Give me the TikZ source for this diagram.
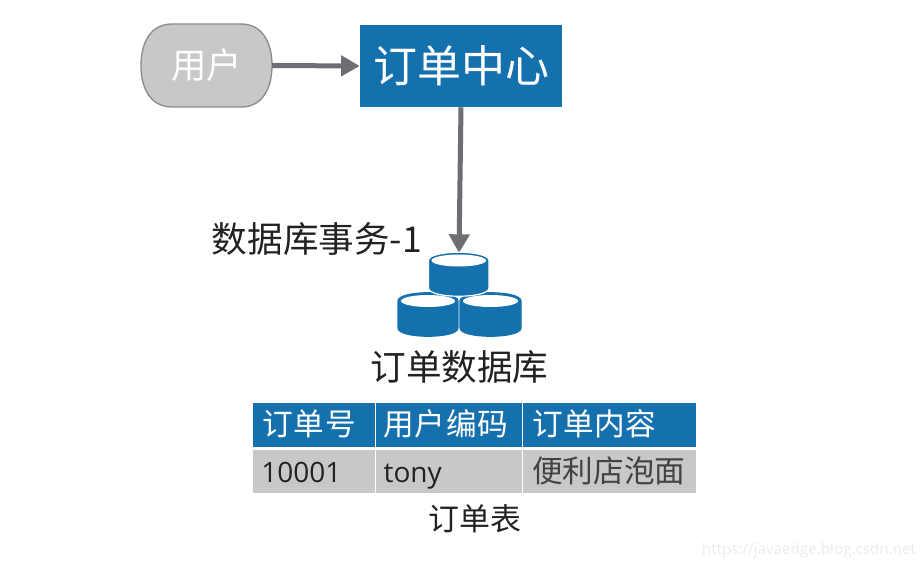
\documentclass[tikz,border=0pt]{standalone}
\usepackage{fontspec}
\setmainfont{Open Sans}
\newfontfamily\cjk{Noto Sans CJK SC}
\usetikzlibrary{arrows.meta}
\definecolor{blu}{HTML}{1571AE}
\definecolor{gry}{HTML}{C8C8C8}
\definecolor{arr}{HTML}{6D6E73}
\definecolor{ink}{HTML}{222222}
\newcommand{\dbcyl}[5]{% left x, right x, top y, bottom y, outline
  \fill[blu,draw=#5,line width=0.9pt] (#1,#3+8) .. controls (#1,#3-3) and (#2,#3-3) .. (#2,#3+8) -- (#2,#4-8) .. controls (#2,#4+3) and (#1,#4+3) .. (#1,#4-8) -- cycle;
  \fill[white] ({(#1+#2)/2},#3+8) ellipse [x radius={(#2-#1)/2-3},y radius=6];
}
\tikzset{
  x=0.75pt,y=-0.75pt,
  flow/.style={draw=arr,line width=3.75pt,-{Triangle[length=14pt,width=15pt]}},
  label/.style={inner sep=0pt,text=ink,font=\cjk\fontsize{26.7}{30}\selectfont},
  cell/.style={inner sep=0pt,anchor=center,text height=19pt,text depth=3pt,align=left},
  headcell/.style={draw=none,fill=blu,text=white,font=\cjk\fontsize{23}{26}\selectfont,minimum height=33pt},
  bodycell/.style={draw=none,fill=gry,text=ink,font=\fontsize{21}{24}\selectfont,minimum height=32.5pt},
}
\begin{document}
\begin{tikzpicture}
\useasboundingbox (0,0) rectangle (924,570);
% user shape
\path[fill=gry,draw=gry!70!black,line width=1pt] (172,24) -- (241,24) .. controls (262,24) and (272,42) .. (272,65.5) .. controls (272,89) and (262,107) .. (241,107) -- (172,107) .. controls (151,107) and (141,89) .. (141,65.5) .. controls (141,42) and (151,24) .. (172,24) -- cycle;
\node[minimum width=98pt,minimum height=62pt,inner sep=0pt,text=white,font=\cjk\fontsize{26.5}{30}\selectfont] (user) at (206.5,65.5) {用户};
\node[fill=blu,minimum width=151.5pt,minimum height=61.5pt,inner sep=0pt,text=white,font=\cjk\fontsize{33}{36}\selectfont] (center) at (461,66) {订单中心};
\coordinate (dbtop) at (459,253);
\draw[flow] (user.east) -- (center.west);
\draw[flow] (center.south) -- (dbtop);
% database
\dbcyl{398}{458}{293}{336}{blu}
\dbcyl{460}{521}{293}{336}{blu}
\dbcyl{428.5}{489}{252.5}{296}{white}
\node[label] (txn) at (317,239) {数据库事务-1};
\node[label] (dbname) at (459.5,367.5) {订单数据库};
% table
\node[cell,headcell,minimum width=91.5pt,text width=78pt] (h1) at (314,425) {\addfontfeature{LetterSpace=3}订单号};
\node[cell,headcell,minimum width=110pt,text width=98pt] (h2) at (449,425) {\addfontfeature{LetterSpace=2}用户编码};
\node[cell,headcell,minimum width=129.5pt,text width=116pt] (h3) at (609.5,425) {\addfontfeature{LetterSpace=2}订单内容};
\node[cell,bodycell,minimum width=91.5pt,text width=79pt] (b1) at (314,471.5) {10001};
\node[cell,bodycell,minimum width=110pt,text width=98pt] (b2) at (449,471.5) {tony};
\node[cell,bodycell,minimum width=129.5pt,text width=116pt,text=ink!85,font=\cjk\fontsize{23}{26}\selectfont] (b3) at (609.5,471.5) {便利店泡面};
\node[label,font=\cjk\fontsize{23.2}{26}\selectfont] (cap) at (475,519) {订单表};
\node[inner sep=0pt,text=black!8,font=\fontsize{11.4}{14}\selectfont] (mark) at (809,551) {https://javaedge.blog.csdn.net};
\end{tikzpicture}
\end{document}
